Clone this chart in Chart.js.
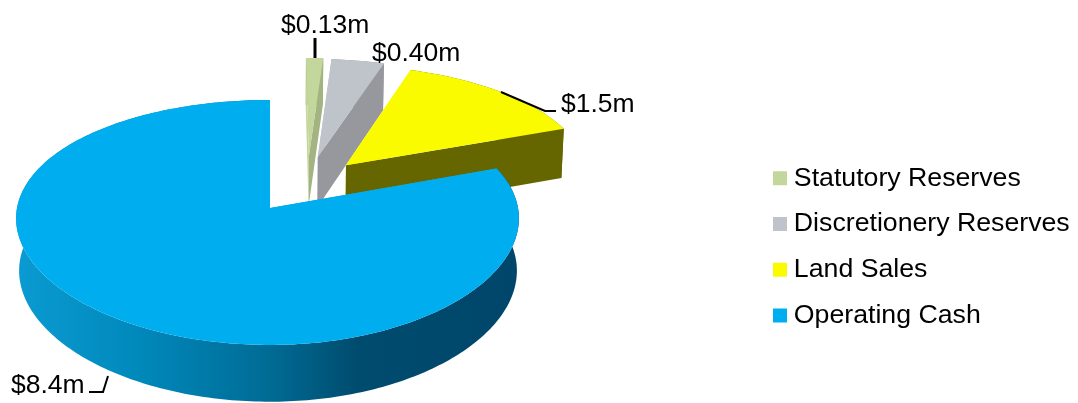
<!DOCTYPE html>
<html>
<head>
<meta charset="utf-8">
<title>Cash and reserves</title>
<script src="https://cdn.jsdelivr.net/npm/chart.js@4"></script>
<style>
    html, body { margin: 0; padding: 0; background: #fff; }
    canvas { display: block; }
</style>
</head>
<body>
<canvas id="cashPie" width="1078" height="403"></canvas>
<script>
const categories = ["Statutory Reserves", "Discretionery Reserves", "Land Sales", "Operating Cash"];
const amounts = [0.13, 0.40, 1.5, 8.4];
const amountLabels = ["$0.13m", "$0.40m", "$1.5m", "$8.4m"];

const faceColors = ["#C3D69B", "#BFC4CA", "#FBFB00", "#00AEEF"];
const wallColors = ["#A3B381", "#96989E", "#666600", null]; // null = gradient below

// How far each slice is pulled out of the pie, in pie radii (right, away from viewer)
const explodeRight = [0.163, 0.2, 0.316, 0];
const explodeBack = [0.455, 0.444, 0.37, 0];

// Perspective of the tilted pie
const view = {
    x: 270,
    perspX: 0.085,
    perspY: 0.118,
    top: { y: 208, left: 253, right: 248, ry: 120.8 },
    bottom: { y: 260, left: 250, right: 246, ry: 125 }
};

// Text anchors and leader lines around the pie
const labelSpots = [[281, 33], [372, 61], [561, 112], [11, 393]];
const leaders = [
    { width: 3, pts: [[315, 38], [315, 58]] },
    { width: 2, pts: [[501, 92], [545, 111], [556, 111]] },
    { width: 2, pts: [[89, 392], [103, 392], [108, 376]] }
];

const legendLeft = 760.5;
const legendTop = 146;
const legendPadding = 19;

function project(u, v, plane) {
    const rx = u < 0 ? plane.left : plane.right;
    return [view.x + rx * u / (1 + view.perspX * v), plane.y - plane.ry * v / (1 + view.perspY * v)];
}

function tracePoints(ctx, pts) {
    ctx.beginPath();
    pts.forEach((p, i) => i ? ctx.lineTo(p[0], p[1]) : ctx.moveTo(p[0], p[1]));
    ctx.closePath();
}

// Points along the rim of a slice, one per degree
function rimPoints(arc, index, plane) {
    const pts = [];
    const steps = Math.max(2, Math.ceil((arc.endAngle - arc.startAngle) * 180 / Math.PI));
    for (let i = 0; i <= steps; i++) {
        const a = arc.startAngle + (arc.endAngle - arc.startAngle) * i / steps;
        pts.push(project(explodeRight[index] + Math.cos(a), explodeBack[index] - Math.sin(a), plane));
    }
    return pts;
}

const pie3d = {
    id: "pie3d",
    afterLayout(chart) {
        chart.legend.left = legendLeft;
        chart.legend.top = legendTop;
    },
    beforeDatasetsDraw(chart) {
        const ctx = chart.ctx;
        const sideShade = ctx.createLinearGradient(17, 0, 517, 0);
        sideShade.addColorStop(0, "#0A9BD2");
        sideShade.addColorStop(0.25, "#0088BA");
        sideShade.addColorStop(0.5, "#006C96");
        sideShade.addColorStop(0.68, "#004C6E");
        sideShade.addColorStop(1, "#00466A");

        chart.getDatasetMeta(0).data.forEach((arc, i) => {
            const wall = wallColors[i] || sideShade;
            const topRim = rimPoints(arc, i, view.top);
            const lowRim = rimPoints(arc, i, view.bottom);
            const topTip = project(explodeRight[i], explodeBack[i], view.top);
            const lowTip = project(explodeRight[i], explodeBack[i], view.bottom);
            const last = topRim.length - 1;

            ctx.save();
            // curved outside, then the cut faces, then the flat top
            ctx.fillStyle = wall;
            tracePoints(ctx, topRim.concat(lowRim.slice().reverse()));
            ctx.fill();
            ctx.fillStyle = faceColors[i];
            tracePoints(ctx, [topTip, topRim[0], lowRim[0], lowTip]);
            ctx.fill();
            ctx.fillStyle = wall;
            tracePoints(ctx, [topTip, topRim[last], lowRim[last], lowTip]);
            ctx.fill();
            ctx.fillStyle = faceColors[i];
            tracePoints(ctx, [topTip].concat(topRim));
            ctx.fill();
            ctx.restore();
        });
        return false;
    },
    afterDraw(chart) {
        const ctx = chart.ctx;
        ctx.save();
        ctx.strokeStyle = "#000";
        leaders.forEach(line => {
            ctx.lineWidth = line.width;
            ctx.beginPath();
            line.pts.forEach((p, i) => i ? ctx.lineTo(p[0], p[1]) : ctx.moveTo(p[0], p[1]));
            ctx.stroke();
        });
        ctx.fillStyle = "#000";
        ctx.font = '26.5px "Liberation Sans"';
        ctx.textBaseline = "alphabetic";
        amountLabels.forEach((text, i) => ctx.fillText(text, labelSpots[i][0], labelSpots[i][1]));
        ctx.restore();
    }
};

new Chart(document.getElementById("cashPie"), {
    type: "pie",
    data: {
        labels: categories,
        datasets: [{ data: amounts, backgroundColor: faceColors, borderWidth: 0 }]
    },
    options: {
        responsive: false,
        animation: false,
        plugins: {
            tooltip: { enabled: false },
            legend: {
                position: "right",
                align: "start",
                labels: {
                    color: "#000",
                    font: { family: '"Liberation Sans"', size: 26.7 },
                    padding: legendPadding,
                    // a tiny box with a thick outline keeps the swatch close to its text
                    boxWidth: 1,
                    boxHeight: 1,
                    generateLabels: chart => categories.map((text, i) => ({
                        text,
                        index: i,
                        fillStyle: faceColors[i],
                        strokeStyle: faceColors[i],
                        lineWidth: 13,
                        fontColor: "#000",
                        hidden: false
                    }))
                }
            }
        }
    },
    plugins: [pie3d]
});
</script>
</body>
</html>
